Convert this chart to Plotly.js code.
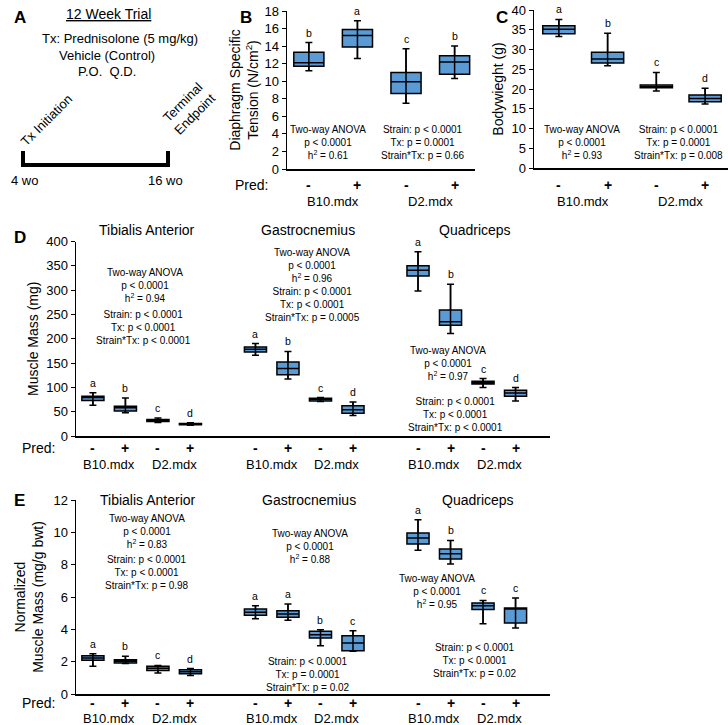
<!DOCTYPE html>
<html>
<head>
<meta charset="utf-8">
<script src="https://cdn.plot.ly/plotly-3.0.1.min.js"></script>
<style>
  html, body { margin: 0; padding: 0; background: #fff; }
  #fig { width: 728px; height: 725px; }
</style>
</head>
<body>
<div id="fig"></div>
<script>
// B: diaphragm specific tension (N/cm2)
const tensionLo  = [11.2, 12.6, 7.5, 10.3];
const tensionQ1  = [11.7, 13.9, 8.6, 10.8];
const tensionMed = [12.1, 15.2, 9.95, 12.2];
const tensionQ3  = [13.3, 15.9, 11.0, 12.9];
const tensionHi  = [14.4, 16.9, 13.7, 14.0];
const tensionSig = ['b', 'a', 'c', 'b'];

// C: bodyweight (g)
const bwLo  = [33.3, 25.9, 19.5, 16.2];
const bwQ1  = [34.0, 26.6, 20.3, 16.8];
const bwMed = [35.1, 27.6, 20.6, 17.6];
const bwQ3  = [36.0, 29.3, 21.0, 18.5];
const bwHi  = [37.6, 34.1, 24.2, 20.2];
const bwSig = ['a', 'b', 'c', 'd'];

// D: muscle mass (mg) -- TA, gastrocnemius, quadriceps
const massLo  = [63, 48, 28, 22,   166, 117, 70.7, 42,   298, 211, 99.5, 72];
const massQ1  = [73, 51.5, 30, 23, 173, 126, 72, 47,     329, 228, 107, 82];
const massMed = [79, 58, 32, 24,   178.5, 139, 75.5, 54, 341, 235, 110, 88.5];
const massQ3  = [82, 61, 34, 25.5, 183, 152, 77.5, 62,   350, 259, 112.6, 94];
const massHi  = [89, 78, 37, 27,   190, 174, 79, 70,     379, 312, 118, 99.5];
const massSig = ['a', 'b', 'c', 'd', 'a', 'b', 'c', 'd', 'a', 'b', 'c', 'd'];

// E: normalized muscle mass (mg/g bwt)
const normLo  = [1.71, 1.88, 1.30, 1.15, 4.66, 4.56, 2.99, 2.64, 8.89, 8.04, 4.35, 4.08];
const normQ1  = [2.08, 1.92, 1.46, 1.26, 4.87, 4.74, 3.46, 2.68, 9.28, 8.35, 5.22, 4.39];
const normMed = [2.23, 2.02, 1.59, 1.38, 5.05, 4.95, 3.67, 3.15, 9.65, 8.68, 5.46, 5.25];
const normQ3  = [2.37, 2.12, 1.71, 1.50, 5.26, 5.15, 3.88, 3.61, 9.96, 8.97, 5.63, 5.32];
const normHi  = [2.49, 2.33, 1.77, 1.57, 5.46, 5.57, 3.98, 3.92, 10.78, 9.5, 5.79, 5.94];
const normSig = ['a', 'b', 'c', 'd', 'a', 'a', 'b', 'c', 'a', 'b', 'c', 'c'];

const predLabels = ['-', '+', '-', '+'];
const strains = ['B10.mdx', 'D2.mdx'];
const muscles = ['Tibialis Anterior', 'Gastrocnemius', 'Quadriceps'];

// box positions on each x axis
const pos4 = [0, 1, 2, 3];
const pos12 = [0, 1, 2, 3, 5, 6, 7, 8, 10, 11, 12, 13];

const W = 728, H = 725;
const FONT = 'Liberation Sans, Arial, sans-serif';
const BLUE = '#5B9BD5';
const px = v => v / W;
const py = v => 1 - v / H;

const traces = [];
const annotations = [];

function addBoxes(xa, ya, pos, lo, q1, med, q3, hi, sig, width) {
    traces.push({
        type: 'box', xaxis: xa, yaxis: ya,
        x: pos, lowerfence: lo, q1: q1, median: med, q3: q3, upperfence: hi,
        width: width, whiskerwidth: 0, boxpoints: false,
        fillcolor: BLUE, line: { color: '#000', width: 1.5 },
        hoverinfo: 'skip', showlegend: false
    });
    // whisker line through the box, with caps
    traces.push({
        type: 'scatter', mode: 'markers', xaxis: xa, yaxis: ya,
        x: pos, y: med,
        marker: { size: 1, color: 'rgba(0,0,0,0)' },
        error_y: {
            type: 'data', symmetric: false,
            array: hi.map((h, i) => h - med[i]),
            arrayminus: lo.map((l, i) => med[i] - l),
            color: '#000', thickness: 1.5, width: 3.5
        },
        hoverinfo: 'skip', showlegend: false
    });
    pos.forEach((p, i) => annotations.push({
        xref: xa, yref: ya, x: p, y: hi[i], text: sig[i],
        showarrow: false, yanchor: 'bottom', yshift: 2,
        font: { size: 10.5, color: '#000' }
    }));
}

function note(x, y, text, size, extra) {
    annotations.push(Object.assign({
        xref: 'paper', yref: 'paper', x: px(x), y: py(y), text: text,
        showarrow: false, xanchor: 'center', yanchor: 'middle',
        font: { size: size, color: '#000' }
    }, extra || {}));
}

function groupLabels(xa, pos, ySign, yStrain, withPred, predX) {
    pos.forEach((p, i) => annotations.push({
        xref: xa, yref: 'paper', x: p, y: py(ySign),
        text: '<b>' + predLabels[i % 4] + '</b>', showarrow: false,
        yanchor: 'middle', font: { size: 14, color: '#000' }
    }));
    for (let i = 0; i < pos.length; i += 2) {
        annotations.push({
            xref: xa, yref: 'paper', x: (pos[i] + pos[i + 1]) / 2, y: py(yStrain),
            text: strains[(i / 2) % 2], showarrow: false,
            yanchor: 'middle', font: { size: 13, color: '#000' }
        });
    }
    if (withPred) note(predX, ySign, 'Pred:', 14);
}

addBoxes('x', 'y', pos4, tensionLo, tensionQ1, tensionMed, tensionQ3, tensionHi, tensionSig, 0.62);
addBoxes('x2', 'y2', pos4, bwLo, bwQ1, bwMed, bwQ3, bwHi, bwSig, 0.66);
addBoxes('x3', 'y3', pos12, massLo, massQ1, massMed, massQ3, massHi, massSig, 0.68);
addBoxes('x4', 'y4', pos12, normLo, normQ1, normMed, normQ3, normHi, normSig, 0.68);

groupLabels('x', pos4, 185, 202, true, 251);
groupLabels('x2', pos4, 185, 202, false, 0);
groupLabels('x3', pos12, 448, 464, true, 38);
groupLabels('x4', pos12, 703, 718, true, 38);

// panel letters
note(20, 18, '<b>A</b>', 17);
note(246, 17, '<b>B</b>', 17);
note(502, 17, '<b>C</b>', 17);
note(20, 237, '<b>D</b>', 17);
note(19, 500, '<b>E</b>', 17);

// panel A: trial design
note(108, 14, '<u>12 Week Trial</u>', 14);
note(120, 38, 'Tx: Prednisolone (5 mg/kg)', 13);
note(107, 55, 'Vehicle (Control)', 13);
note(107, 71, 'P.O.  Q.D.', 13);
note(46, 120, 'Tx Initiation', 13, { textangle: -45 });
note(189, 108, 'Terminal<br>Endpoint', 13, { textangle: -45 });
note(24, 180, '4 wo', 13);
note(165, 180, '16 wo', 13);

// muscle titles
[147, 308, 475].forEach((x, i) => note(x, 230, muscles[i], 14));
[148, 309, 478].forEach((x, i) => note(x, 500, muscles[i], 14));

// statistics
const S = 10;
note(328, 143, 'Two-way ANOVA<br>p < 0.0001<br>h<sup>2</sup> = 0.61', S);
note(423, 143, 'Strain: p < 0.0001<br>Tx: p = 0.0001<br>Strain*Tx: p = 0.66', S);
note(582, 143, 'Two-way ANOVA<br>p < 0.0001<br>h<sup>2</sup> = 0.93', S);
note(678, 143, 'Strain: p < 0.0001<br>Tx: p = 0.0001<br>Strain*Tx: p = 0.008', S);

note(145, 286, 'Two-way ANOVA<br>p < 0.0001<br>h<sup>2</sup> = 0.94', S);
note(143, 327, 'Strain: p < 0.0001<br>Tx: p < 0.0001<br>Strain*Tx: p < 0.0001', S);
note(312, 265, 'Two-way ANOVA<br>p < 0.0001<br>h<sup>2</sup> = 0.96', S);
note(312, 305, 'Strain: p < 0.0001<br>Tx: p < 0.0001<br>Strain*Tx: p = 0.0005', S);
note(448, 363, 'Two-way ANOVA<br>p < 0.0001<br>h<sup>2</sup> = 0.97', S);
note(455, 414, 'Strain: p < 0.0001<br>Tx: p < 0.0001<br>Strain*Tx: p < 0.0001', S);

note(147, 531, 'Two-way ANOVA<br>p < 0.0001<br>h<sup>2</sup> = 0.83', S);
note(147, 572, 'Strain: p < 0.0001<br>Tx: p < 0.0001<br>Strain*Tx: p = 0.98', S);
note(310, 546, 'Two-way ANOVA<br>p < 0.0001<br>h<sup>2</sup> = 0.88', S);
note(308, 674, 'Strain: p < 0.0001<br>Tx: p = 0.0001<br>Strain*Tx: p = 0.02', S);
note(437, 591, 'Two-way ANOVA<br>p < 0.0001<br>h<sup>2</sup> = 0.95', S);
note(475, 660, 'Strain: p < 0.0001<br>Tx: p < 0.0001<br>Strain*Tx: p = 0.02', S);

// timeline shapes for panel A
const tl = { type: 'line', xref: 'paper', yref: 'paper', line: { color: '#000', width: 4 } };
const shapes = [
    Object.assign({}, tl, { x0: px(23), x1: px(168), y0: py(165), y1: py(165) }),
    Object.assign({}, tl, { x0: px(23), x1: px(23), y0: py(151), y1: py(167) }),
    Object.assign({}, tl, { x0: px(168), x1: px(168), y0: py(151), y1: py(167) })
];

const xBase = { showline: true, linecolor: '#000', linewidth: 1.5, showgrid: false,
    zeroline: false, showticklabels: false, ticks: '', fixedrange: true };
const yBase = { showline: true, linecolor: '#000', linewidth: 1.5, showgrid: false,
    zeroline: false, ticks: 'outside', ticklen: 4, tickwidth: 1, tickcolor: '#000',
    tickfont: { size: 13, color: '#000' }, fixedrange: true };

const layout = {
    width: W, height: H,
    margin: { l: 0, r: 0, t: 0, b: 0 },
    paper_bgcolor: '#fff', plot_bgcolor: 'rgba(0,0,0,0)',
    font: { family: FONT, color: '#000', size: 12 },
    showlegend: false,
    xaxis: Object.assign({}, xBase, { domain: [px(287), px(475)], range: [-0.45, 3.42], anchor: 'y' }),
    yaxis: Object.assign({}, yBase, { domain: [py(169), py(11)], range: [0, 18], dtick: 2, anchor: 'x',
        title: { text: 'Diaphragm Specific<br>Tension (N/cm<sup>2</sup>)', font: { size: 14 }, standoff: 2 } }),
    xaxis2: Object.assign({}, xBase, { domain: [px(534), 1], range: [-0.51, 3.47], anchor: 'y2' }),
    yaxis2: Object.assign({}, yBase, { domain: [py(168), py(10)], range: [0, 40], dtick: 5, anchor: 'x2',
        title: { text: 'Bodywieght (g)', font: { size: 14 }, standoff: 4 } }),
    xaxis3: Object.assign({}, xBase, { domain: [px(76), px(550)], range: [-0.52, 14.06], anchor: 'y3' }),
    yaxis3: Object.assign({}, yBase, { domain: [py(436), py(241.5)], range: [0, 400], dtick: 50, anchor: 'x3',
        title: { text: 'Muscle Mass (mg)', font: { size: 14 }, standoff: 4 } }),
    xaxis4: Object.assign({}, xBase, { domain: [px(76), px(550)], range: [-0.52, 14.06], anchor: 'y4' }),
    yaxis4: Object.assign({}, yBase, { domain: [py(694), py(500)], range: [0, 12], dtick: 2, anchor: 'x4',
        title: { text: 'Normalized<br>Muscle Mass (mg/g bwt)', font: { size: 14 }, standoff: 6 } }),
    annotations: annotations,
    shapes: shapes
};

Plotly.newPlot('fig', traces, layout, { staticPlot: true, displayModeBar: false });
</script>
</body>
</html>
